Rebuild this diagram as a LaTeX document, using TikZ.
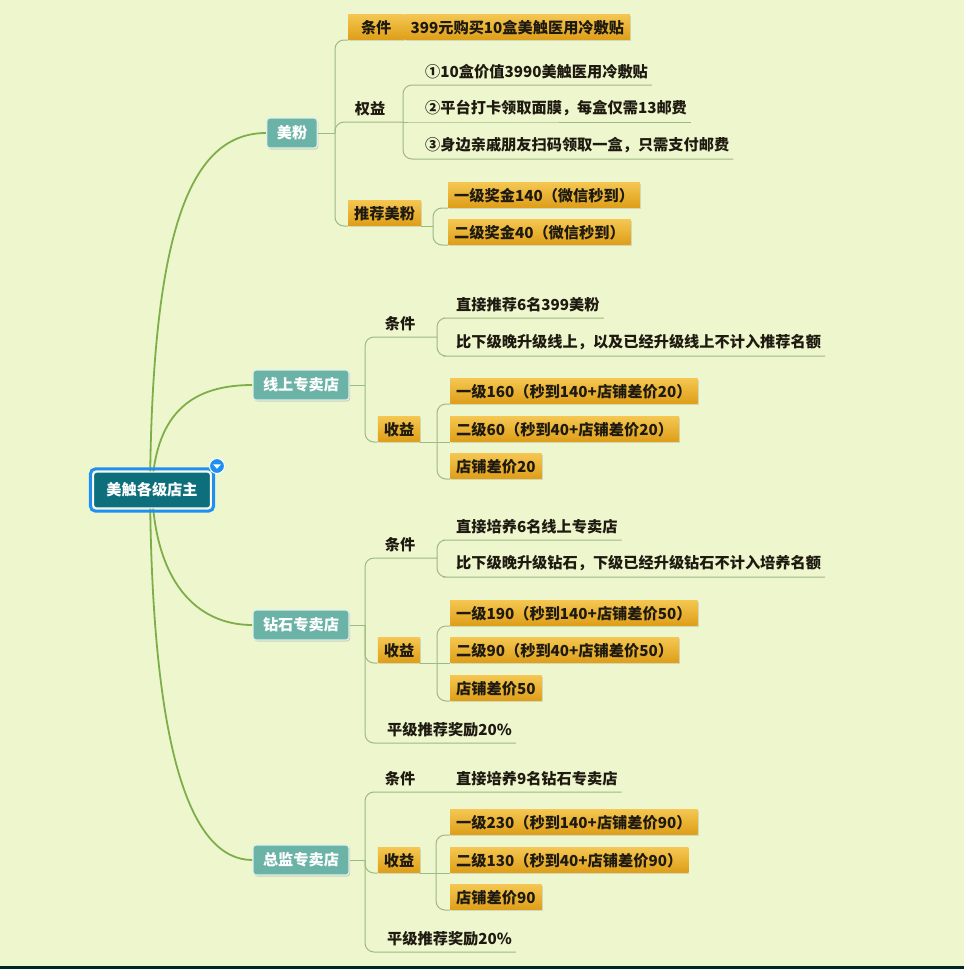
\documentclass[tikz,border=0pt]{standalone}
\usepackage{fontspec}
\setmainfont{Noto Sans CJK SC}
\usepackage{tikz}
\usetikzlibrary{backgrounds,calc,positioning,shadows}
\definecolor{bgcol}{HTML}{EEF6CE}
\definecolor{trunkcol}{HTML}{7DAE4A}
\definecolor{branchcol}{HTML}{9DBA80}
\definecolor{tealcol}{HTML}{6BB3A6}
\definecolor{tealline}{HTML}{E0F0EA}
\definecolor{rootcol}{HTML}{0C6F7B}
\definecolor{rootblue}{HTML}{2090F0}
\definecolor{goldtop}{HTML}{F4C650}
\definecolor{goldmid}{HTML}{EAAE28}
\definecolor{goldbot}{HTML}{DE9E18}
\definecolor{inkcol}{HTML}{1E1A10}

\begin{document}
\begin{tikzpicture}[x=1pt,y=-1pt,
  every node/.style={font=\fontsize{15.2}{18}\selectfont\bfseries},
  trunk/.style={draw=trunkcol,line width=1.8pt},
  branch/.style={draw=branchcol,line width=1pt,rounded corners=9pt}]
  \tikzstyle{rootbox} = [rectangle,rounded corners=3pt,fill=rootcol,draw=white,line width=1.2pt,
    text=white,minimum width=117,minimum height=36,inner xsep=8pt];
  \tikzstyle{topic} = [rectangle,rounded corners=3pt,fill=tealcol,draw=tealline,line width=1.2pt,
    text=white,minimum height=30,inner xsep=10pt,
    drop shadow={shadow xshift=1.2pt,shadow yshift=-1.5pt,opacity=.3}];
  \tikzstyle{obox} = [rectangle,top color=goldtop,middle color=goldmid,bottom color=goldbot,
    text=inkcol,minimum height=25,inner xsep=6pt,inner ysep=3pt,
    drop shadow={shadow xshift=1.2pt,shadow yshift=-1.2pt,opacity=.25}];
  \tikzstyle{txt} = [inner xsep=4pt,inner ysep=6pt,text=inkcol];
  \useasboundingbox (0,0) rectangle (964,969);
  \begin{pgfonlayer}{background}
    \fill[bgcol] (0,0) rectangle (964,969);
    \fill[black!70!teal] (0,966) rectangle (964,969);
  \end{pgfonlayer}

  \node[rootbox] (root) at (152,490) {美触各级店主};
  \draw[rootblue,line width=3pt,rounded corners=5pt]
    ($(root.south west)+(-2.5,2.5)$) rectangle ($(root.north east)+(2.5,-2.5)$);
  \node[circle,fill=rootblue,draw=white,line width=1pt,minimum size=15,inner sep=0pt] (fold) at (217,466) {};
  \fill[white] ($(fold)+(-3.8,-1.6)$) -- ($(fold)+(3.8,-1.6)$) -- ($(fold)+(0,2.8)$) -- cycle;

  \node[topic] (mf) at (292,133) {美粉};
  \node[topic] (xs) at (301,385) {线上专卖店};
  \node[topic] (zs) at (301,625) {钻石专卖店};
  \node[topic] (zj) at (301,860) {总监专卖店};

  \coordinate (mfJ) at (335,133);
  \node[obox,anchor=south west,minimum width=56] (mfC) at (348,40) {条件};
  \node[obox,anchor=south west] (mfCv) at (mfC.south east) {399元购买10盒美触医用冷敷贴};
  \node[txt,anchor=south] (qy) at (370,122) {权益};
  \coordinate (qyJ) at (403,122);
  \node[txt,anchor=south west] (qy1) at (421,85) {①10盒价值3990美触医用冷敷贴};
  \node[txt,anchor=south west] (qy2) at (421,122) {②平台打卡领取面膜，每盒仅需13邮费};
  \node[txt,anchor=south west] (qy3) at (421,159) {③身边亲戚朋友扫码领取一盒，只需支付邮费};
  \node[obox,anchor=south west] (tj) at (348,226) {推荐美粉};
  \coordinate (tjJ) at (433,226);
  \node[obox,anchor=south west] (tj1) at (448,208) {一级奖金140（微信秒到）};
  \node[obox,anchor=south west] (tj2) at (448,245) {二级奖金40（微信秒到）};

  \coordinate (xsJ) at (365,385);
  \node[txt,anchor=south] (xsC) at (400,337) {条件};
  \coordinate (xsCJ) at (437,337);
  \node[txt,anchor=south west] (xsC1) at (452,318) {直接推荐6名399美粉};
  \node[txt,anchor=south west] (xsC2) at (452,356) {比下级晚升级线上，以及已经升级线上不计入推荐名额};
  \node[obox,anchor=south] (xsS) at (399,442) {收益};
  \coordinate (xsSJ) at (437,442);
  \node[obox,anchor=south west] (xsS1) at (450,404) {一级160（秒到140+店铺差价20）};
  \node[obox,anchor=south west] (xsS2) at (450,442) {二级60（秒到40+店铺差价20）};
  \node[obox,anchor=south west] (xsS3) at (450,479) {店铺差价20};

  \coordinate (zsJ) at (365,625);
  \node[txt,anchor=south] (zsC) at (400,558) {条件};
  \coordinate (zsCJ) at (437,558);
  \node[txt,anchor=south west] (zsC1) at (452,540) {直接培养6名线上专卖店};
  \node[txt,anchor=south west] (zsC2) at (452,577) {比下级晚升级钻石，下级已经升级钻石不计入培养名额};
  \node[obox,anchor=south] (zsS) at (399,663) {收益};
  \coordinate (zsSJ) at (437,663);
  \node[obox,anchor=south west] (zsS1) at (450,626) {一级190（秒到140+店铺差价50）};
  \node[obox,anchor=south west] (zsS2) at (450,663) {二级90（秒到40+店铺差价50）};
  \node[obox,anchor=south west] (zsS3) at (450,701) {店铺差价50};
  \node[txt,anchor=south west] (zsP) at (383,743) {平级推荐奖励20\%};

  \coordinate (zjJ) at (365,860);
  \node[txt,anchor=south] (zjC) at (400,792) {条件};
  \node[txt,anchor=south west] (zjC1) at (452,792) {直接培养9名钻石专卖店};
  \node[obox,anchor=south] (zjS) at (399,873) {收益};
  \coordinate (zjSJ) at (436,873);
  \node[obox,anchor=south west] (zjS1) at (450,835) {一级230（秒到140+店铺差价90）};
  \node[obox,anchor=south west] (zjS2) at (450,873) {二级130（秒到40+店铺差价90）};
  \node[obox,anchor=south west] (zjS3) at (450,910) {店铺差价90};
  \node[txt,anchor=south west] (zjP) at (383,952) {平级推荐奖励20\%};

  \begin{pgfonlayer}{background}
    \draw[trunk] ($(root.center)+(-2,0)$) .. controls (152,230) and (190,133) .. (mf.west);
    \draw[trunk] (root.center) .. controls (155,410) and (195,385) .. (xs.west);
    \draw[trunk] (root.center) .. controls (155,580) and (195,625) .. (zs.west);
    \draw[trunk] ($(root.center)+(-2,0)$) .. controls (152,750) and (190,860) .. (zj.west);

    \draw[branch] (mf.east) -- (mfJ);
    \draw[branch] (mfJ) |- (mfC.south west);
    \draw[branch] (mfJ) |- (qyJ);
    \draw[branch] (qyJ) |- (qy1.south west) -- (qy1.south east);
    \draw[branch] (qyJ) -- (qy2.south west) -- (qy2.south east);
    \draw[branch] (qyJ) |- (qy3.south west) -- (qy3.south east);
    \draw[branch] (mfJ) |- (tj.south west);
    \draw[branch] (tj.south east) -- (tjJ);
    \draw[branch] (tjJ) |- (tj1.south west);
    \draw[branch] (tjJ) |- (tj2.south west);

    \draw[branch] (xs.east) -- (xsJ);
    \draw[branch] (xsJ) |- (xsCJ);
    \draw[branch] (xsCJ) |- (xsC1.south west) -- (xsC1.south east);
    \draw[branch] (xsCJ) |- (xsC2.south west) -- (xsC2.south east);
    \draw[branch] (xsJ) |- (xsS.south west);
    \draw[branch] (xsS.south east) -- (xsSJ);
    \draw[branch] (xsSJ) |- (xsS1.south west);
    \draw[branch] (xsSJ) -- (xsS2.south west);
    \draw[branch] (xsSJ) |- (xsS3.south west);

    \draw[branch] (zs.east) -- (zsJ);
    \draw[branch] (zsJ) |- (zsCJ);
    \draw[branch] (zsCJ) |- (zsC1.south west) -- (zsC1.south east);
    \draw[branch] (zsCJ) |- (zsC2.south west) -- (zsC2.south east);
    \draw[branch] (zsJ) |- (zsS.south west);
    \draw[branch] (zsS.south east) -- (zsSJ);
    \draw[branch] (zsSJ) |- (zsS1.south west);
    \draw[branch] (zsSJ) -- (zsS2.south west);
    \draw[branch] (zsSJ) |- (zsS3.south west);
    \draw[branch] (zsJ) |- (zsP.south west) -- (zsP.south east);

    \draw[branch] (zj.east) -- (zjJ);
    \draw[branch] (zjJ) |- (zjC.south west) -- (zjC1.south east);
    \draw[branch] (zjJ) |- (zjS.south west);
    \draw[branch] (zjS.south east) -- (zjSJ);
    \draw[branch] (zjSJ) |- (zjS1.south west);
    \draw[branch] (zjSJ) -- (zjS2.south west);
    \draw[branch] (zjSJ) |- (zjS3.south west);
    \draw[branch] (zjJ) |- (zjP.south west) -- (zjP.south east);
  \end{pgfonlayer}
\end{tikzpicture}
\end{document}
